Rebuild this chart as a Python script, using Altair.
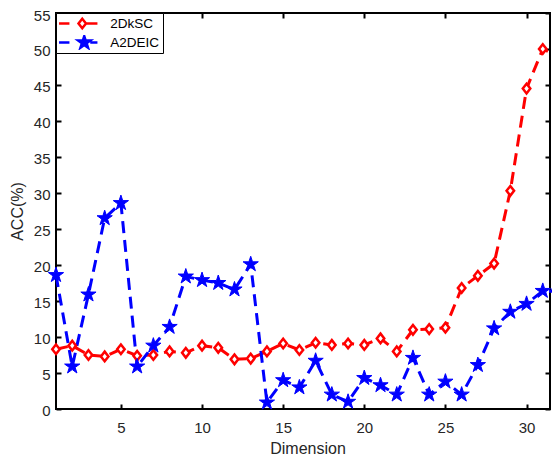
import math
import altair as alt
import pandas as pd

dims = list(range(1, 33))
dksc = [8.3, 8.8, 7.5, 7.3, 8.3, 7.4, 7.5, 8.0, 7.8, 8.8, 8.5, 6.9, 7.0, 8.0, 9.1, 8.2,
        9.2, 8.9, 9.1, 8.9, 9.8, 8.0, 11.0, 11.1, 11.3, 16.8, 18.5, 20.2, 30.3, 44.5, 50.0, 48.9]
a2deic = [18.6, 5.9, 15.9, 26.5, 28.6, 5.9, 8.8, 11.4, 18.4, 17.9, 17.5, 16.6, 20.1, 0.9, 4.0, 3.0,
          6.7, 2.0, 1.0, 4.3, 3.3, 2.0, 7.1, 2.0, 3.8, 2.0, 6.1, 11.2, 13.5, 14.6, 16.4, 16.3]
methods = ["2DkSC", "A2DEIC"]
colors = ["#ff0000", "#0000ff"]
fills = ["white", "#0000ff"]
stroke_widths = [2.5, 1.0]
xticks = [5, 10, 15, 20, 25, 30]
yticks = list(range(0, 60, 5))

rows = []
for m, vals in zip(methods, [dksc, a2deic]):
    for d, v in zip(dims, vals):
        rows.append({"dim": d, "acc": v, "method": m})
df = pd.DataFrame(rows)


def star_path(cx, r):
    ri = r * 0.382
    pts = []
    for k in range(10):
        ang = math.radians(-90 + 36 * k)
        rr = r if k % 2 == 0 else ri
        pts.append((cx + rr * math.cos(ang), rr * math.sin(ang)))
    return "M" + "L".join(f"{x:.3f},{y:.3f}" for x, y in pts) + "Z"


diamond = "M0,-0.6L0.47,0L0,0.6L-0.47,0Z"
star = star_path(0, 1.0)
leg_diamond = "M-2.9,0L-1.6,0" + diamond + "M0.47,0L1.9,0"
leg_star = "M-2.9,0L-1.6,0" + star_path(0.25, 0.8) + "M1.0,0L1.9,0"

W_RANGE = 503
W, H = 494, 396
FONT = "Liberation Sans"
xs = alt.Scale(domain=[1, 32], nice=False, zero=False, range=[0, W_RANGE])
ys = alt.Scale(domain=[0, 55], nice=False, zero=True)

tick_common = dict(labels=False, domain=False, grid=False, ticks=True, tickSize=5,
                   tickWidth=2, tickColor="black", title=None)

legend = alt.Legend(
    title=None, orient="top-left", offset=0, padding=3,
    strokeColor="black", fillColor="white",
    symbolSize=256, symbolStrokeWidth=2.5, symbolOffset=13.75, symbolOpacity=1,
    labelOffset=18.5, rowPadding=4, clipHeight=15,
    labelFont=FONT, labelFontSize=13.5, labelColor="black",
    labelExpr="datum.label + ' '",
)

lines = alt.Chart(df).mark_line(strokeWidth=3, strokeDash=[12, 7]).encode(
    x=alt.X("dim:Q", scale=xs, axis=alt.Axis(
        orient="bottom", values=xticks, title="Dimension", ticks=False, tickSize=0,
        domain=False, grid=False, labelPadding=11, titlePadding=5)),
    y=alt.Y("acc:Q", scale=ys, axis=alt.Axis(
        orient="left", values=yticks, title="ACC(%)", ticks=False, tickSize=0,
        domain=False, grid=False, labelPadding=6, titlePadding=8,
        labelOffset={"condition": {"test": "datum.value === 55", "value": 2.5}, "value": 1})),
    color=alt.Color("method:N", scale=alt.Scale(domain=methods, range=colors), legend=None),
)

points = alt.Chart(df).mark_point(size=256, opacity=1).encode(
    x=alt.X("dim:Q", scale=xs, axis=None),
    y=alt.Y("acc:Q", scale=ys, axis=None),
    shape=alt.Shape("method:N", scale=alt.Scale(domain=methods, range=[diamond, star]), legend=None),
    fill=alt.Fill("method:N", scale=alt.Scale(domain=methods, range=fills), legend=None),
    stroke=alt.Stroke("method:N", scale=alt.Scale(domain=methods, range=colors), legend=None),
    strokeWidth=alt.StrokeWidth("method:N", scale=alt.Scale(domain=methods, range=stroke_widths), legend=None),
)

legend_layer = alt.Chart(df).transform_filter("false").mark_point(size=256, opacity=1).encode(
    x=alt.X("dim:Q", scale=xs, axis=None),
    y=alt.Y("acc:Q", scale=ys, axis=None),
    shape=alt.Shape("method:N", scale=alt.Scale(domain=methods, range=[leg_diamond, leg_star]), legend=legend),
    fill=alt.Fill("method:N", scale=alt.Scale(domain=methods, range=fills), legend=legend),
    stroke=alt.Stroke("method:N", scale=alt.Scale(domain=methods, range=colors), legend=legend),
)

ticks_a = alt.Chart(df).mark_point(opacity=0).encode(
    x=alt.X("dim:Q", scale=xs, axis=alt.Axis(orient="top", offset=-H, values=xticks, **tick_common)),
    y=alt.Y("acc:Q", scale=ys, axis=alt.Axis(orient="right", offset=-W, values=yticks, **tick_common)),
)
ticks_b = alt.Chart(df).mark_point(opacity=0).encode(
    x=alt.X("dim:Q", scale=xs, axis=alt.Axis(orient="bottom", offset=-H, values=xticks, **tick_common)),
    y=alt.Y("acc:Q", scale=ys, axis=alt.Axis(orient="left", offset=-W, values=yticks, **tick_common)),
)

chart = alt.layer(lines, points, legend_layer, ticks_a, ticks_b).resolve_axis(
    x="independent", y="independent"
).resolve_scale(
    shape="independent", fill="independent", stroke="independent", strokeWidth="independent"
).properties(
    width=W, height=H,
    autosize=alt.AutoSizeParams(type="none"),
    padding={"left": 48, "top": 5, "right": 2, "bottom": 48},
).configure_view(
    stroke="black", strokeWidth=2
).configure_axis(
    labelFont=FONT, labelFontSize=15, labelColor="#262626",
    titleFont=FONT, titleFontSize=16, titleColor="#262626", titleFontWeight="normal",
)

chart.save("out.html", embed_options={"renderer": "svg", "actions": False})
